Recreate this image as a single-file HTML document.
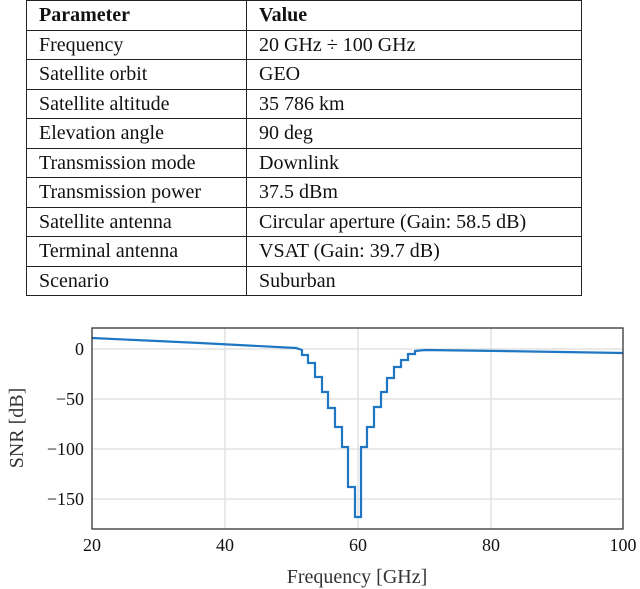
<!DOCTYPE html>
<html><head><style>
body{margin:0;width:640px;height:589px;background:#fff;overflow:hidden;font-family:"Liberation Serif",serif;}
table{position:absolute;left:26px;top:0;border-collapse:collapse;font-size:20px;color:#111;}
td{border:1px solid #222;height:28.5px;padding:0 0 0 12px;line-height:28px;white-space:nowrap;}
td:first-child{width:207px;}
td:last-child{width:322px;}
</style></head><body>
<table>
<tr><td><b>Parameter</b></td><td><b>Value</b></td></tr>
<tr><td>Frequency</td><td>20 GHz ÷ 100 GHz</td></tr>
<tr><td>Satellite orbit</td><td>GEO</td></tr>
<tr><td>Satellite altitude</td><td>35 786 km</td></tr>
<tr><td>Elevation angle</td><td>90 deg</td></tr>
<tr><td>Transmission mode</td><td>Downlink</td></tr>
<tr><td>Transmission power</td><td>37.5 dBm</td></tr>
<tr><td>Satellite antenna</td><td>Circular aperture (Gain: 58.5 dB)</td></tr>
<tr><td>Terminal antenna</td><td>VSAT (Gain: 39.7 dB)</td></tr>
<tr><td>Scenario</td><td>Suburban</td></tr>
</table>
<svg width="640" height="589" style="position:absolute;left:0;top:0" font-family="Liberation Serif, serif">
<g stroke="#ddd" stroke-width="1.3">
<line x1="225" y1="328" x2="225" y2="529"/><line x1="358" y1="328" x2="358" y2="529"/><line x1="491" y1="328" x2="491" y2="529"/>
<line x1="92" y1="349" x2="623" y2="349"/><line x1="92" y1="399" x2="623" y2="399"/><line x1="92" y1="449" x2="623" y2="449"/><line x1="92" y1="499" x2="623" y2="499"/>
</g>
<polyline fill="none" stroke="#1f77c4" stroke-width="2.2" points="92,338 200,343 296,348 302,350 302,355 308,355 308,363 315,363 315,377 322,377 322,392 328,392 328,408 335,408 335,427 342,427 342,447 348,447 348,487 355,487 355,517 361,517 361,447 367,447 367,427 374,427 374,407 381,407 381,392 387,392 387,378 394,378 394,367 401,367 401,360 408,360 408,354 415,354 415,351 425,350 500,351 623,353"/>
<rect x="92" y="328" width="531" height="201" fill="none" stroke="#333" stroke-width="1.3"/>
<g font-size="18" fill="#111" text-anchor="middle">
<text x="92" y="551">20</text><text x="225" y="551">40</text><text x="358" y="551">60</text><text x="491" y="551">80</text><text x="623" y="551">100</text>
</g>
<g font-size="18" fill="#111" text-anchor="end">
<text x="84" y="355">0</text><text x="84" y="405">−50</text><text x="84" y="455">−100</text><text x="84" y="505">−150</text>
</g>
<text x="357" y="583" font-size="20" fill="#333" text-anchor="middle">Frequency [GHz]</text>
<text transform="translate(23,428) rotate(-90)" font-size="20" fill="#333" text-anchor="middle">SNR [dB]</text>
</svg>
</body></html>
